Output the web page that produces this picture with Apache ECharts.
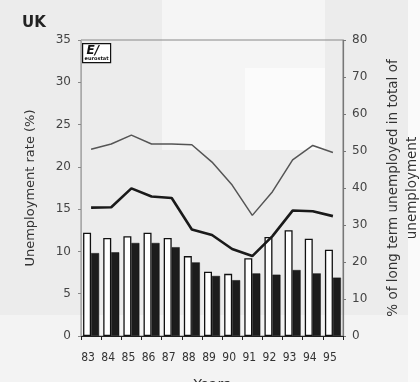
<!DOCTYPE html>
<html>
<head>
<meta charset="utf-8">
<script src="https://cdn.jsdelivr.net/npm/echarts@6/dist/echarts.min.js"></script>
<style>
html,body{margin:0;padding:0;background:#ececec;}
#chart{width:420px;height:382px;}
</style>
</head>
<body>
<div id="chart"></div>
<script>
var years = ['83','84','85','86','87','88','89','90','91','92','93','94','95'];
var rateWhite = [12.2, 11.6, 11.8, 12.2, 11.6, 9.45, 7.6, 7.35, 9.2, 11.7, 12.5, 11.5, 10.2];
var rateBlack = [9.8, 9.9, 11.0, 11.0, 10.5, 8.7, 7.1, 6.6, 7.4, 7.25, 7.8, 7.4, 6.9];
var longTermThin = [50.5, 51.9, 54.3, 51.9, 51.9, 51.7, 47.0, 40.8, 32.6, 39.0, 47.6, 51.5, 49.6];
var longTermThick = [34.7, 34.8, 39.9, 37.7, 37.3, 28.8, 27.3, 23.5, 21.6, 27.0, 33.9, 33.7, 32.4];
var leftTicks = [0, 35, 5];
var rightTicks = [0, 80, 10];

var chart = echarts.init(document.getElementById('chart'), null, {renderer: 'canvas'});
var font = 'DejaVu Sans, sans-serif';
var narrow = 'Liberation Sans Narrow, DejaVu Sans Condensed, sans-serif';
var option = {
  backgroundColor: '#ececec',
  animation: false,
  textStyle: {fontFamily: font},
  title: {
    text: 'UK', left: 17, top: 11,
    textStyle: {fontSize: 15, fontWeight: 'bold', color: '#222', fontFamily: font}
  },
  graphic: [
    {type: 'rect', z: -10, shape: {x: 162, y: 0, width: 163, height: 150}, style: {fill: '#f5f5f5'}},
    {type: 'rect', z: -9, shape: {x: 245, y: 68, width: 80, height: 82}, style: {fill: '#fbfbfb'}},
    {type: 'rect', z: -10, shape: {x: 0, y: 315, width: 408, height: 67}, style: {fill: '#f3f3f3'}},
    {type: 'rect', z: -10, shape: {x: 408, y: 0, width: 12, height: 382}, style: {fill: '#fafafa'}},
    {type: 'group', left: 82, top: 43, z: 100, children: [
      {type: 'rect', shape: {x: 0, y: 0, width: 28, height: 19}, style: {fill: '#fff', stroke: '#111', lineWidth: 1.2}},
      {type: 'text', x: 4, y: 1, style: {text: 'E/', font: 'italic bold 12px DejaVu Sans', fill: '#111'}},
      {type: 'text', x: 2, y: 13, style: {text: 'eurostat', font: 'bold 5px DejaVu Sans', fill: '#111'}}
    ]}
  ],
  grid: {left: 81, right: 77, top: 40, bottom: 46, show: true, borderColor: '#888', borderWidth: 1,
    backgroundColor: 'transparent', containLabel: false, outerBoundsMode: 'none'},
  xAxis: {
    type: 'category', data: years, boundaryGap: true,
    name: 'Years', nameLocation: 'middle', nameGap: 42, nameMoveOverlap: false,
    nameTextStyle: {fontSize: 14, color: '#333', fontFamily: font},
    axisLine: {lineStyle: {color: '#222', width: 1}},
    axisTick: {show: true, alignWithLabel: false, length: 4, lineStyle: {color: '#222'}},
    axisLabel: {fontSize: 12, color: '#333', margin: 16, fontFamily: narrow, padding: [0, 6, 0, 0]}
  },
  yAxis: [
    {
      type: 'value', min: leftTicks[0], max: leftTicks[1], interval: leftTicks[2],
      name: 'Unemployment rate (%)', nameLocation: 'middle', nameGap: 44, nameRotate: 90, nameMoveOverlap: false,
      nameTextStyle: {fontSize: 13, color: '#333', fontFamily: font},
      axisLine: {show: true, lineStyle: {color: '#aaa', width: 1}},
      axisTick: {show: true, length: 3, lineStyle: {color: '#888'}},
      axisLabel: {fontSize: 12, color: '#444', margin: 10, fontFamily: font},
      splitLine: {show: false}
    },
    {
      type: 'value', min: rightTicks[0], max: rightTicks[1], interval: rightTicks[2],
      name: '% of long term unemployed in total of\nunemployment', nameLocation: 'middle', nameGap: 41, nameRotate: 90, nameMoveOverlap: false,
      nameTextStyle: {fontSize: 13.5, color: '#333', fontFamily: font, lineHeight: 19},
      axisLine: {show: true, lineStyle: {color: '#777', width: 1.2}},
      axisTick: {show: true, length: 3, inside: false, lineStyle: {color: '#777'}},
      axisLabel: {fontSize: 12, color: '#444', margin: 9, fontFamily: font},
      splitLine: {show: false}
    }
  ],
  series: [
    {type: 'bar', yAxisIndex: 0, data: rateWhite, barWidth: 8, barGap: '0%',
      itemStyle: {color: '#fff', borderColor: '#111', borderWidth: 1.3}},
    {type: 'bar', yAxisIndex: 0, data: rateBlack, barWidth: 8,
      itemStyle: {color: '#1c1c1c', borderColor: '#111', borderWidth: 0.5}},
    {type: 'line', yAxisIndex: 1, data: longTermThin, showSymbol: false, symbol: 'none',
      lineStyle: {color: '#555', width: 1.5}, z: 5},
    {type: 'line', yAxisIndex: 1, data: longTermThick, showSymbol: false, symbol: 'none',
      lineStyle: {color: '#1a1a1a', width: 2.6}, z: 5}
  ]
};
chart.setOption(option);
</script>
</body>
</html>
